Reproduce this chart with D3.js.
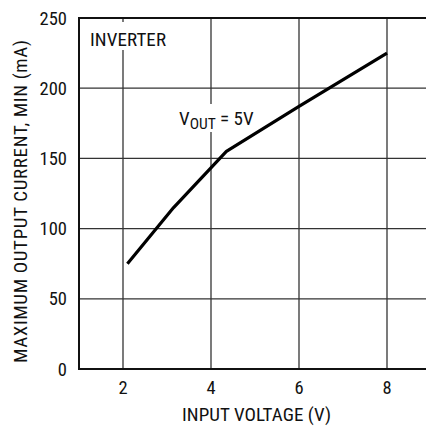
<!DOCTYPE html>
<html>
<head>
<meta charset="utf-8">
<script src="https://cdn.jsdelivr.net/npm/d3@7"></script>
<style>
  body { margin: 0; background: #fff; }
  svg { display: block; }
  text { font-family: "Liberation Sans Narrow", "Roboto Condensed", "Arial Narrow", sans-serif; fill: #111; }
</style>
</head>
<body>
<div id="chart"></div>
<script>
// curve
const inputVoltage = [2.1, 3.15, 4.35, 6.0, 8.0];
const maxCurrent = [75, 115, 155, 187, 225];
const xTicks = [2, 4, 6, 8];
const yTicks = [0, 50, 100, 150, 200, 250];

const width = 426, height = 426;
const margin = { top: 18, right: -5, bottom: 57, left: 79 };

const svg = d3.select("#chart").append("svg")
  .attr("width", width)
  .attr("height", height);

const x = d3.scaleLinear().domain([1, 9]).range([margin.left, width - margin.right]);
const y = d3.scaleLinear().domain([0, 250]).range([height - margin.bottom, margin.top]);

// grid
svg.append("g").selectAll("line").data(xTicks).join("line")
  .attr("x1", d => x(d)).attr("x2", d => x(d))
  .attr("y1", y(250)).attr("y2", y(0))
  .attr("stroke", "#222").attr("stroke-width", 1.2);
svg.append("g").selectAll("line").data(yTicks.filter(d => d > 0 && d < 250)).join("line")
  .attr("x1", x(1)).attr("x2", x(9))
  .attr("y1", d => y(d)).attr("y2", d => y(d))
  .attr("stroke", "#333").attr("stroke-width", 1.2);

// frame (right edge runs off the picture)
svg.append("path")
  .attr("d", `M${x(9)},${y(250)}H${x(1)}V${y(0)}H${x(9)}`)
  .attr("fill", "none").attr("stroke", "#111").attr("stroke-width", 2);

// tick labels
svg.append("g").selectAll("text").data(yTicks).join("text")
  .attr("x", margin.left - 12).attr("y", d => y(d) + 6.5)
  .attr("text-anchor", "end").attr("font-size", 18.5)
  .text(d => d);
svg.append("g").selectAll("text").data(xTicks).join("text")
  .attr("x", d => x(d)).attr("y", y(0) + 25)
  .attr("text-anchor", "middle").attr("font-size", 18.5)
  .text(d => d);

// axis titles
svg.append("text")
  .attr("x", 182).attr("y", 421)
  .attr("font-size", 19)
  .attr("textLength", 149)
  .text("INPUT VOLTAGE (V)");
svg.append("text")
  .attr("transform", "translate(27,363) rotate(-90)")
  .attr("font-size", 19)
  .attr("textLength", 323)
  .text("MAXIMUM OUTPUT CURRENT, MIN (mA)");

// labels with white boxes over the grid
const inv = svg.append("g");
inv.append("rect").attr("x", 88).attr("y", 22).attr("width", 82).attr("height", 28).attr("fill", "#fff");
inv.append("text").attr("x", 90).attr("y", 46).attr("font-size", 19)
  .attr("textLength", 76).text("INVERTER");

const vout = svg.append("g");
vout.append("rect").attr("x", 176).attr("y", 104).attr("width", 84).attr("height", 28).attr("fill", "#fff");
const vt = vout.append("text").attr("x", 179).attr("y", 125).attr("font-size", 19);
vt.append("tspan").text("V");
vt.append("tspan").attr("dy", 4).attr("font-size", 15.5).text("OUT");
vt.append("tspan").attr("dy", -4).text(" = 5V");

// curve
const line = d3.line().x((d, i) => x(inputVoltage[i])).y(d => y(d));
svg.append("path")
  .datum(maxCurrent)
  .attr("d", line)
  .attr("fill", "none")
  .attr("stroke", "#000")
  .attr("stroke-width", 3.2)
  .attr("stroke-linejoin", "round");
</script>
</body>
</html>
